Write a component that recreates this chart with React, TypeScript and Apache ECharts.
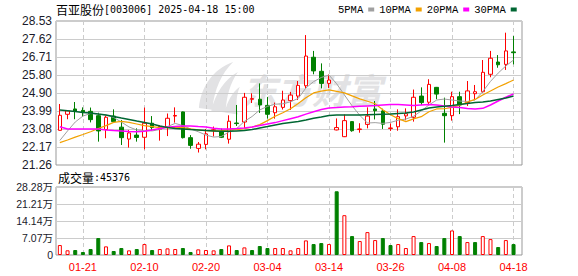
import React, { useEffect, useRef } from 'react';
import * as echarts from 'echarts';

const dates = ['01-16','01-17','01-20','01-21','01-22','01-23','01-24','01-27','02-05','02-06','02-07','02-10','02-11','02-12','02-13','02-14','02-17','02-18','02-19','02-20','02-21','02-24','02-25','02-26','02-27','02-28','03-03','03-04','03-05','03-06','03-07','03-10','03-11','03-12','03-13','03-14','03-17','03-18','03-19','03-20','03-21','03-24','03-25','03-26','03-27','03-28','03-31','04-01','04-02','04-03','04-07','04-08','04-09','04-10','04-11','04-14','04-15','04-16','04-17','04-18'];

const opens = [23.01,23.82,24.09,24.02,23.97,23.75,23.05,23.73,23.17,22.57,
  22.77,22.66,23.37,23.06,23.19,23.73,23.94,22.64,22.10,22.30,
  23.00,22.96,22.56,23.38,23.43,24.58,24.58,24.27,23.90,24.17,
  24.51,24.74,25.26,26.70,25.99,25.38,23.03,22.69,23.45,23.05,
  23.31,24.09,23.99,23.10,23.19,23.74,23.67,24.74,24.43,25.18,
  23.87,23.75,24.71,24.41,24.86,24.96,25.84,26.46,26.34,26.97];
const closes = [23.77,23.99,23.97,23.92,23.55,22.98,23.67,23.45,22.64,22.88,
  22.65,23.37,23.15,23.21,23.62,23.76,22.64,22.25,22.31,22.83,
  23.04,22.66,23.47,23.35,24.68,24.61,24.29,23.82,24.20,24.54,
  24.79,25.28,26.76,26.01,25.38,25.55,23.15,23.50,22.99,23.08,
  23.73,24.00,23.32,23.13,23.70,23.85,24.68,24.41,25.33,24.84,
  23.75,24.71,24.29,25.00,24.96,25.94,26.65,26.32,27.02,26.93];
const lows = [23.00,23.57,23.57,23.70,23.41,22.44,22.61,23.42,22.27,22.14,
  22.44,22.05,23.00,22.49,22.72,23.40,22.60,22.08,21.89,22.05,
  22.70,22.62,22.34,23.23,23.13,24.39,23.89,23.60,23.60,24.06,
  24.04,24.54,25.13,25.84,25.13,25.15,23.01,22.67,22.94,22.89,
  23.11,23.56,23.08,22.98,22.99,23.52,23.45,24.29,24.32,24.58,
  22.39,23.50,23.83,24.24,24.54,24.91,25.69,26.17,26.06,26.34];
const highs = [24.34,24.02,24.44,24.17,24.16,23.90,23.76,24.07,23.53,23.03,
  23.11,24.16,23.73,23.26,23.86,24.17,23.96,22.77,22.42,23.08,
  23.20,23.10,23.77,24.29,24.90,24.88,25.38,24.69,24.41,25.01,
  24.95,25.50,27.82,27.02,26.39,25.83,23.61,23.81,23.47,23.37,
  24.17,24.49,24.10,23.36,24.07,24.12,25.07,25.18,25.59,25.20,
  24.66,24.96,24.96,25.50,25.30,26.56,27.02,26.81,27.94,27.77];
const volumes = [41400,19500,20700,12400,24800,70400,35900,16600,29000,19300,
  24800,45500,20700,24800,27600,24800,29000,12400,23400,20700,
  19300,24800,40000,20700,31700,20700,37300,29000,29000,29000,
  19300,29000,60700,45500,49700,45500,265000,165600,78700,58000,
  95200,62100,70400,41400,45500,29000,78700,53800,49700,37300,
  70400,102100,78700,53800,53800,78700,66200,33100,62100,45376];

const ma5 = [22.50,22.98,23.43,23.73,23.86,23.83,23.78,23.66,23.43,23.18,
  23.03,23.00,22.98,23.05,23.20,23.36,23.25,23.08,22.94,22.77,
  22.67,22.70,22.93,23.10,23.46,23.71,24.04,24.22,24.33,24.35,
  24.45,24.62,25.15,25.47,25.68,25.80,25.36,24.80,24.25,23.77,
  23.38,23.40,23.36,23.41,23.52,23.58,23.72,23.99,24.29,24.54,
  24.59,24.54,24.49,24.47,24.54,24.97,25.48,25.90,26.26,26.56];
const ma10 = [22.39,22.52,22.67,22.80,22.94,23.10,23.25,23.41,23.46,23.41,
  23.33,23.25,23.20,23.15,23.15,23.16,23.15,23.08,23.03,22.99,
  22.98,23.00,23.03,23.05,23.09,23.18,23.30,23.50,23.72,23.90,
  24.10,24.36,24.65,24.90,24.99,25.05,24.98,24.90,24.75,24.60,
  24.48,24.35,24.05,23.80,23.60,23.45,23.59,23.70,23.95,24.09,
  24.10,24.17,24.28,24.44,24.57,24.79,25.00,25.20,25.37,25.55];
const ma20 = [23.19,23.08,23.08,23.08,23.08,23.08,23.03,23.00,22.98,22.95,
  22.94,22.96,23.03,23.10,23.16,23.20,23.23,23.23,23.20,23.18,
  23.11,23.08,23.08,23.10,23.13,23.18,23.25,23.33,23.40,23.50,
  23.60,23.70,23.83,23.95,24.06,24.14,24.16,24.19,24.20,24.22,
  24.24,24.26,24.29,24.31,24.31,24.29,24.26,24.29,24.31,24.29,
  24.24,24.19,24.16,24.11,24.09,24.12,24.29,24.49,24.68,24.85];
const ma30 = [24.04,24.00,23.96,23.91,23.89,23.83,23.78,23.71,23.63,23.56,
  23.48,23.41,23.33,23.23,23.15,23.10,23.08,23.05,23.03,23.00,
  22.98,22.96,22.96,22.98,23.00,23.05,23.13,23.20,23.28,23.35,
  23.41,23.46,23.53,23.62,23.68,23.76,23.78,23.78,23.78,23.78,
  23.80,23.81,23.82,23.83,23.86,23.89,23.94,24.04,24.14,24.19,
  24.22,24.26,24.31,24.36,24.41,24.44,24.49,24.57,24.64,24.74];

const priceTickLabels = ['21.26','22.17','23.08','23.99','24.90','25.80','26.71','27.62','28.53'];
const volumeTickValues = [0, 70700, 141400, 212100, 282800];
const dateTickLabels = ['01-21','02-10','02-20','03-04','03-14','03-26','04-08','04-18'];
const maNames = ['5PMA','10PMA','20PMA','30PMA'];
const maColors = ['#a0a0a0','#f2a100','#ff00ff','#006633'];

const RED = '#ff0000';
const GREEN = '#008000';

const LOGO_D =
  'M2,50 C4,28 16,8 38,0 C26,12 18,30 16,52 Z ' +
  'M15,53 C19,35 29,19 43,11 C35,23 31,37 30,55 Z ' +
  'M29,55 C32,43 37,33 45,27 C41,37 41,47 43,57 Z';

export default function App() {
  const ref = useRef<HTMLDivElement>(null);
  useEffect(() => {
    if (!ref.current) return;
    try {
      echarts.graphic.registerShape('emLogo', echarts.graphic.extendPath(LOGO_D, {}));
    } catch (e) {
      /* already registered */
    }
    const chart = echarts.init(ref.current, null, { renderer: 'svg' });
    const priceTicks = priceTickLabels.map(Number);
    const dateIdx = dateTickLabels.map((d) => dates.indexOf(d));
    const candleData = opens.map((o, i) => [i, o, closes[i], lows[i], highs[i]]);
    const volData = volumes.map((v, i) => {
      const up = i === 0 ? true : closes[i] >= closes[i - 1];
      return {
        value: [i, v],
        itemStyle: up
          ? { color: '#ffffff', borderColor: RED, borderWidth: 1 }
          : { color: GREEN, borderColor: GREEN, borderWidth: 1 },
      };
    });
    const mas = [ma5, ma10, ma20, ma30];
    const maWidths = [1, 1.2, 1.5, 1.5];

    const xBase = {
      type: 'value',
      min: -0.5,
      max: 60.1,
      axisLine: { show: false },
      axisTick: { show: false, customValues: dateIdx },
      splitLine: { show: true, lineStyle: { color: '#cccccc', type: [4, 3], width: 1 } },
    };

    chart.setOption({
      animation: false,
      backgroundColor: '#ffffff',
      textStyle: { fontFamily: 'Liberation Sans, "Noto Sans CJK SC", sans-serif' },
      legend: {
        left: 338,
        top: 4,
        padding: 0,
        itemWidth: 6,
        itemHeight: 4,
        itemGap: 5,
        align: 'right',
        icon: 'rect',
        data: maNames,
        textStyle: { fontFamily: '"Liberation Mono", monospace', fontSize: 10.5, color: '#000000' },
      },
      grid: [
        { left: 56, top: 21, width: 466, height: 144, show: true, borderColor: '#999999', borderWidth: 1 },
        { left: 56, top: 187, width: 466, height: 68, show: true, borderColor: '#999999', borderWidth: 1 },
      ],
      xAxis: [
        { ...xBase, gridIndex: 0, axisLabel: { show: false, customValues: dateIdx } },
        {
          ...xBase,
          gridIndex: 1,
          axisLabel: {
            show: true,
            customValues: dateIdx,
            formatter: (v: number) => dates[Math.round(v)] || '',
            color: RED,
            fontSize: 11,
            margin: 6,
          },
        },
      ],
      yAxis: [
        {
          type: 'value',
          gridIndex: 0,
          min: 21.26,
          max: 28.53,
          axisLine: { show: false },
          axisTick: { show: false, customValues: priceTicks },
          axisLabel: {
            customValues: priceTicks,
            formatter: (v: number) => v.toFixed(2),
            color: '#1a1a2a',
            fontSize: 12,
            margin: 4,
          },
          splitLine: { show: true, lineStyle: { color: '#cccccc', width: 1 } },
        },
        {
          type: 'value',
          gridIndex: 1,
          min: volumeTickValues[0],
          max: volumeTickValues[volumeTickValues.length - 1],
          interval: volumeTickValues[1],
          axisLine: { show: false },
          axisTick: { show: false },
          axisLabel: {
            formatter: (v: number) => (v === 0 ? '0' : (v / 10000).toFixed(2) + '万'),
            color: '#1a1a2a',
            fontSize: 10.5,
            margin: 3,
          },
          splitLine: { show: true, lineStyle: { color: '#cccccc', width: 1 } },
        },
      ],
      graphic: [
        {
          type: 'emLogo',
          x: 197,
          y: 62,
          scaleX: 0.95,
          scaleY: 0.92,
          z: 0,
          style: { fill: '#e2e2e4', stroke: 'none' },
        },
        {
          type: 'text',
          x: 242,
          y: 88,
          z: 0,
          style: {
            text: '东方财富',
            fill: '#e2e2e4',
            font: 'italic bold 35px "Noto Sans CJK SC"',
            verticalAlign: 'middle',
            align: 'left',
          },
        },
        {
          type: 'text',
          x: 56,
          y: 9,
          style: {
            text: '{c|百亚股份}{a|[003006] 2025-04-18 15:00}',
            verticalAlign: 'middle',
            rich: {
              c: { fontFamily: '"Noto Sans CJK SC"', fontSize: 12, fill: '#000' },
              a: { fontFamily: '"DejaVu Sans Mono", monospace', fontSize: 10, fill: '#000' },
            },
          },
        },
        {
          type: 'text',
          x: 58,
          y: 177,
          style: {
            text: '{c|成交量}{a|:45376}',
            verticalAlign: 'middle',
            rich: {
              c: { fontFamily: '"Noto Sans CJK SC"', fontSize: 12, fill: '#000' },
              a: { fontFamily: '"DejaVu Sans Mono", monospace', fontSize: 10, fill: '#000' },
            },
          },
        },
      ],
      series: [
        {
          type: 'candlestick',
          name: 'K',
          xAxisIndex: 0,
          yAxisIndex: 0,
          encode: { x: 0, y: [1, 2, 3, 4] },
          barWidth: 4,
          data: candleData,
          itemStyle: {
            color: '#ffffff',
            color0: GREEN,
            borderColor: RED,
            borderColor0: GREEN,
            borderWidth: 1,
          },
        },
        ...mas.map((m, k) => ({
          type: 'line',
          name: maNames[k],
          xAxisIndex: 0,
          yAxisIndex: 0,
          symbol: 'none',
          data: m.map((v, i) => [i, v]),
          lineStyle: { color: maColors[k], width: maWidths[k] },
          itemStyle: { color: maColors[k] },
          z: 3,
        })),
        {
          type: 'bar',
          name: 'VOL',
          xAxisIndex: 1,
          yAxisIndex: 1,
          barWidth: 4,
          data: volData,
        },
      ],
    });
    return () => chart.dispose();
  }, []);
  return <div ref={ref} style={{ position: 'fixed', left: 0, top: 0, width: 578, height: 276 }} />;
}
